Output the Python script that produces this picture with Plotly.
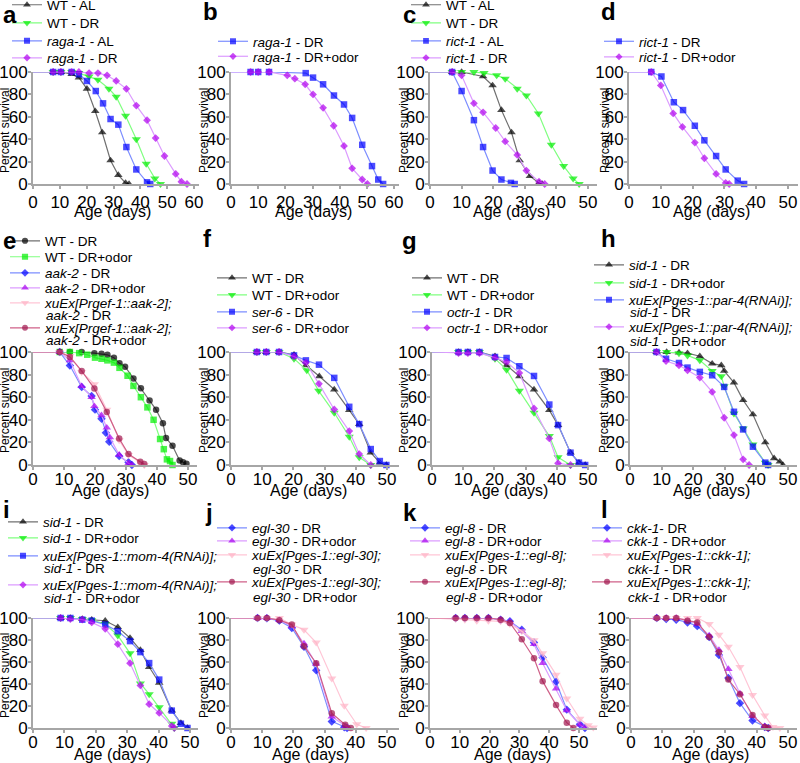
import plotly.graph_objects as go

W, H = 800, 763
FONT = "Arial, Liberation Sans, sans-serif"

# ------------------------------------------------------------------ data
# panel a
A_WT_AL_D = [0, 7.5, 10.4, 14.4, 17.1, 20.1, 23.2, 25.8, 28.9, 31.8, 34.5, 35.8]
A_WT_AL_S = [100, 100, 100, 98, 95, 85, 65, 46, 21, 8, 1, 0]
A_WT_DR_D = [0, 7.5, 10.4, 14.4, 17.1, 20.9, 24.2, 28.3, 31.0, 34.5, 38.5, 42.2, 45.4, 47.5]
A_WT_DR_S = [100, 100, 100, 100, 99, 96, 93, 85, 78, 61, 40, 18, 5, 0]
A_RAGA_AL_D = [0, 7.5, 10.4, 14.4, 17.1, 20.1, 23.4, 26.1, 28.9, 31.8, 34.8, 38.5, 42.5, 43.7]
A_RAGA_AL_S = [100, 100, 100, 100, 98, 92, 83, 72, 58, 53, 33, 13, 1.5, 0]
A_RAGA_DR_D = [0, 7.5, 10.4, 14.4, 17.1, 20.9, 24.2, 27.6, 31.0, 34.8, 38.5, 42.5, 45.7, 49.0, 53.2, 55.3, 57.4]
A_RAGA_DR_S = [100, 100, 100, 100, 100, 99, 99, 97, 92, 85, 70, 57, 41, 25, 9, 2, 0]
# panel b
B_RAGA_DR_D = [0, 7.2, 10.0, 14.0, 27.5, 30.2, 33.9, 37.9, 41.6, 44.6, 48.3, 51.9, 54.2, 56.0]
B_RAGA_DR_S = [100, 100, 100, 100, 99, 95, 89, 79, 71, 59, 35, 16, 4, 0]
B_RAGA_ODOR_D = [0, 7.2, 10.0, 14.0, 20.7, 23.5, 27.3, 30.2, 33.9, 37.8, 41.6, 44.6, 48.3, 50.2]
B_RAGA_ODOR_S = [100, 100, 100, 100, 97, 94, 89, 80, 68, 52, 34, 14, 4, 0]
# panel c
C_WT_AL_D = [0, 7.0, 10.0, 16.8, 19.8, 22.6, 25.8, 28.4, 31.6, 34.5, 35.5]
C_WT_AL_S = [100, 100, 100, 96, 88, 66, 46, 21, 7, 1, 0]
C_WT_DR_D = [0, 7.0, 10.0, 13.9, 17.1, 21.1, 23.8, 27.6, 30.5, 34.3, 38.4, 42.3, 45.3, 47.2]
C_WT_DR_S = [100, 100, 100, 100, 99, 97, 94, 85, 79, 63, 35, 16, 5, 0]
C_RICT_AL_D = [0, 7.0, 10.0, 13.9, 16.8, 19.8, 22.6, 25.6, 26.8]
C_RICT_AL_S = [100, 100, 83, 57, 33, 12, 4, 1, 0]
C_RICT_DR_D = [0, 7.0, 10.0, 13.9, 16.8, 20.8, 23.8, 27.6, 30.5, 34.5, 36.3]
C_RICT_DR_S = [100, 100, 97, 72, 64, 50, 38, 26, 12, 2, 0]
# panel d
D_RICT_DR_D = [0, 7.0, 10.2, 14.1, 17.0, 20.7, 23.7, 27.4, 30.4, 34.2, 36.2]
D_RICT_DR_S = [100, 100, 96, 73, 66, 52, 39, 25, 13, 3, 0]
D_RICT_ODOR_D = [0, 7.0, 10.0, 13.9, 16.8, 20.7, 23.7, 27.4, 30.4, 31.5]
D_RICT_ODOR_S = [100, 100, 88, 63, 51, 37, 23, 9, 1, 0]
# panel e
E_WT_DR_D = [0, 8.6, 11.9, 15.7, 19.8, 22.1, 24.0, 26.1, 27.9, 29.7, 32.4, 34.8, 37.6, 39.7, 41.9, 42.9, 45.0, 47.3, 48.4, 49.5]
E_WT_DR_S = [100, 100, 100, 100, 99, 98.5, 97.5, 95, 90, 87, 76.5, 68, 57, 49, 37, 24, 17, 4, 2.4, 1]
E_WT_ODOR_D = [0, 8.6, 11.9, 14.9, 17.5, 20.0, 22.1, 24.0, 26.1, 27.9, 30.5, 32.4, 34.8, 36.9, 38.9, 41.0, 42.2, 43.2, 44.2, 45.0]
E_WT_ODOR_S = [100, 100, 100, 99, 97.6, 95, 94, 92.6, 90.6, 86, 79, 70, 60, 51, 40, 23, 14, 5, 3.5, 0]
E_AAK_DR_D = [0, 8.6, 11.9, 15.7, 18.9, 20.0, 22.1, 23.5, 24.6, 27.8, 30.8, 31.9]
E_AAK_DR_S = [100, 100, 88, 69, 61, 49, 41, 28.5, 20.6, 8, 2.4, 0]
E_AAK_ODOR_D = [0, 8.6, 11.9, 15.7, 18.9, 19.8, 22.1, 23.8, 24.8, 27.8, 30.8, 31.9]
E_AAK_ODOR_S = [100, 100, 92.6, 69.7, 60, 52, 44, 33, 24.4, 9, 1.5, 0]
E_RESC_DR_D = [0, 8.6, 11.9, 15.7, 19.8, 23.8, 27.8, 30.8, 34.6, 35.9]
E_RESC_DR_S = [100, 100, 96.5, 82.4, 71.5, 49, 22, 8.8, 2.4, 0]
E_RESC_ODOR_D = [0, 8.6, 11.9, 15.7, 19.8, 23.8, 27.8, 30.8, 34.6, 35.9]
E_RESC_ODOR_S = [100, 100, 95.6, 83.2, 67.6, 47, 23.5, 9.7, 2.9, 0.9]
# panel f
F_WT_DR_D = [0, 8.3, 11.3, 15.4, 20.2, 24.0, 28.3, 33.1, 37.9, 41.1, 44.8, 47.7, 49.8]
F_WT_DR_S = [100, 100, 100, 100, 97.6, 88.2, 78.5, 66.8, 48.5, 36.2, 10.9, 2.1, 0]
F_WT_ODOR_D = [0, 8.3, 11.3, 15.4, 20.2, 24.3, 28.1, 33.1, 37.9, 41.1, 44.8]
F_WT_ODOR_S = [100, 100, 100, 100, 94.1, 83.8, 65.6, 46.2, 25, 6.8, 0]
F_SER_DR_D = [0, 8.3, 11.3, 15.4, 20.2, 24.0, 28.2, 33.1, 37.9, 41.1, 44.8, 47.7, 49.8]
F_SER_DR_S = [100, 100, 100, 100, 97, 92.6, 88.8, 77.1, 51.5, 36.2, 14.1, 3.5, 0]
F_SER_ODOR_D = [0, 8.3, 11.3, 15.4, 20.2, 24.0, 28.2, 33.1, 37.9, 41.1, 44.8]
F_SER_ODOR_S = [100, 100, 100, 100, 96, 90.6, 71.8, 49.1, 30, 9.7, 0]
# panel g
G_WT_DR_D = [0, 8.5, 11.5, 15.2, 20.2, 23.9, 28.0, 32.7, 37.6, 40.4, 44.4, 47.1, 49.1]
G_WT_DR_S = [100, 100, 100, 100, 96.2, 88.2, 78.5, 66.8, 48.5, 35.3, 10.9, 2.1, 0]
G_WT_ODOR_D = [0, 8.5, 11.5, 15.2, 20.2, 23.9, 28.0, 32.7, 37.6, 40.4, 44.4]
G_WT_ODOR_S = [100, 100, 100, 100, 94.1, 84.4, 65.6, 46.2, 25.6, 6.8, 0]
G_OCTR_DR_D = [0, 8.5, 11.5, 15.2, 20.2, 23.9, 28.0, 32.7, 37.6, 40.4, 44.4, 47.1, 49.1]
G_OCTR_DR_S = [100, 100, 100, 100, 95.6, 94.7, 87.4, 78.8, 53.5, 35.3, 10.9, 2.1, 0]
G_OCTR_ODOR_D = [0, 8.5, 11.5, 15.2, 20.2, 23.9, 28.0, 32.7, 37.6, 40.4, 44.4]
G_OCTR_ODOR_S = [100, 99, 99, 99, 95, 91.2, 81.5, 50, 23.5, 1.5, 0]
# panel h
H_SID_DR_D = [0, 8.4, 11.6, 15.5, 18.2, 22.1, 26.0, 28.9, 29.8, 32.9, 35.8, 38.9, 42.8, 45.6, 47.4, 48.4]
H_SID_DR_S = [100, 100, 100, 99.5, 99, 96.2, 89.7, 88.2, 83.2, 72.9, 57.4, 44.7, 20, 5.9, 2.9, 0]
H_SID_ODOR_D = [0, 8.4, 11.6, 15.5, 18.2, 22.1, 26.0, 28.9, 29.8, 32.9, 35.8, 38.9, 42.8, 43.7]
H_SID_ODOR_S = [100, 100, 100, 99, 97, 92.6, 83.2, 78.5, 69.7, 45.6, 32.4, 18.2, 2.1, 0]
H_PAR4_DR_D = [0, 8.4, 11.4, 15.5, 18.2, 22.1, 26.0, 29.8, 32.9, 35.8, 38.9, 42.8, 43.7]
H_PAR4_DR_S = [100, 100, 94, 90.3, 86.2, 82.4, 79.4, 69.1, 47.1, 31.5, 16.2, 2.1, 0]
H_PAR4_ODOR_D = [0, 8.4, 11.4, 15.5, 18.2, 22.1, 26.0, 29.8, 32.9, 35.8, 37.7]
H_PAR4_ODOR_S = [100, 100, 92, 88.2, 83.8, 77.4, 64.7, 41.8, 26.5, 5, 0]
# panel i
I_SID_DR_D = [0, 8.8, 11.9, 15.7, 18.7, 23.0, 27.0, 30.9, 34.2, 37.0, 40.2, 44.2, 47.1, 49.2]
I_SID_DR_S = [100, 100, 100, 99, 98.5, 97.5, 91.7, 81.8, 70.8, 55.4, 41.1, 15.8, 4.5, 0]
I_SID_ODOR_D = [0, 8.8, 11.9, 15.7, 18.7, 23.0, 27.0, 30.9, 34.2, 37.0, 40.2, 44.2, 45.0]
I_SID_ODOR_S = [100, 100, 100, 99, 98, 94.6, 84.2, 67.9, 40.5, 30.7, 18.8, 3.9, 0]
I_MOM4_DR_D = [0, 8.8, 11.9, 15.7, 18.7, 23.0, 27.0, 30.9, 34.2, 37.0, 40.2, 44.2, 47.1, 49.2]
I_MOM4_DR_S = [100, 100, 100, 98.5, 97.6, 94, 88, 79, 69, 59, 44, 15.8, 3.9, 0]
I_MOM4_ODOR_D = [0, 8.8, 11.9, 15.7, 18.7, 23.0, 27.0, 30.9, 34.2, 37.0, 40.2, 44.2, 45.0]
I_MOM4_ODOR_S = [100, 100, 99, 98.5, 96, 90.2, 76.2, 58.9, 38.7, 21.7, 13.7, 1.8, 0]
# panel j
J_EGL30_DR_D = [0, 8.5, 11.5, 15.5, 19.5, 23.4, 27.3, 32.3, 36.3, 37.2]
J_EGL30_DR_S = [100, 100, 99.7, 97.6, 91, 73.8, 52.4, 6, 0.6, 0]
J_EGL30_ODOR_D = [0, 8.5, 11.5, 15.5, 19.5, 23.4, 27.3, 32.3, 36.7, 37.7]
J_EGL30_ODOR_S = [100, 100, 100, 98, 92.6, 76.8, 58.3, 10.4, 1.5, 0]
J_RESC_DR_D = [0, 8.5, 11.5, 15.5, 19.5, 23.4, 27.3, 32.3, 36.3, 40.3, 43.3]
J_RESC_DR_S = [100, 100, 100, 100, 94, 89.3, 77.7, 45, 20.2, 3.3, 0]
J_RESC_ODOR_D = [0, 8.5, 11.5, 15.5, 19.5, 23.4, 27.3, 32.3, 36.6, 38.4]
J_RESC_ODOR_S = [100, 100, 100, 98, 94, 74.4, 58.9, 13.4, 3, 0]
# panel k
K_EGL8_DR_D = [0, 8.6, 11.7, 15.7, 19.6, 23.7, 26.8, 30.8, 34.9, 37.8, 42.3, 45.9, 50.3, 52.0]
K_EGL8_DR_S = [100, 100, 100, 100, 100, 98.5, 97, 89.3, 77.7, 64, 42, 16.7, 3.3, 0]
K_EGL8_ODOR_D = [0, 8.6, 11.7, 15.7, 19.6, 23.7, 26.8, 30.8, 34.9, 37.8, 42.3, 45.9, 50.3, 52.0]
K_EGL8_ODOR_S = [100, 100, 100, 100, 100, 98.5, 96.5, 88.1, 76.2, 58.9, 35.7, 16, 3, 0]
K_RESC_DR_D = [0, 8.6, 11.7, 15.7, 19.6, 23.7, 26.8, 30.8, 34.9, 37.8, 42.3, 45.9, 50.3, 53.1, 54.8]
K_RESC_DR_S = [100, 99, 98.5, 97.6, 97.6, 97, 94.6, 88, 79.8, 67.9, 48.5, 26.8, 8.3, 2.4, 0.5]
K_RESC_ODOR_D = [0, 8.6, 11.7, 15.7, 19.6, 23.7, 26.8, 30.8, 34.9, 37.8, 42.3, 45.9, 48.1]
K_RESC_ODOR_S = [100, 100, 100, 100, 100, 98.5, 95.5, 80.7, 63.4, 42.6, 20.8, 4.8, 0]
# panel l
L_CKK_DR_D = [0, 8.2, 11.2, 14.4, 18.0, 21.1, 24.9, 28.0, 31.0, 34.7, 38.7, 42.6, 43.7]
L_CKK_DR_S = [100, 100, 99, 98.5, 96, 92.6, 82.7, 66.4, 45.5, 22.6, 6.8, 0.9, 0]
L_CKK_ODOR_D = [0, 8.2, 11.2, 14.4, 18.0, 21.1, 24.9, 28.0, 31.0, 34.7, 38.7, 42.6, 44.2]
L_CKK_ODOR_S = [100, 100, 100, 100, 98, 94.6, 84.2, 70.8, 53.6, 31.3, 10.7, 1.5, 0]
L_RESC_DR_D = [0, 8.2, 11.2, 14.4, 18.0, 21.1, 24.9, 28.0, 31.0, 34.7, 38.7, 42.6, 45.2, 47.4]
L_RESC_DR_S = [100, 100, 100, 100, 100, 100, 94.6, 84.8, 73.8, 55.4, 30, 11.3, 0.9, 0]
L_RESC_ODOR_D = [0, 8.2, 11.2, 14.4, 18.0, 21.1, 24.9, 28.0, 31.0, 34.7, 38.7, 42.6, 43.7]
L_RESC_ODOR_S = [100, 100, 100, 100, 97.6, 96, 82.7, 68.8, 44, 30.7, 11.9, 0.9, 0]

# tick labels
Y_TICKS = [0, 20, 40, 60, 80, 100]
X_TICKS_60 = [0, 10, 20, 30, 40, 50, 60]
X_TICKS_50 = [0, 10, 20, 30, 40, 50]

# ------------------------------------------------------------------ styles
STYLES = {
    "k_tri": dict(symbol="triangle-up", color="#000000", line="#707070", size=7.5),
    "g_tri": dict(symbol="triangle-down", color="#00ee00", line="#80ff80", size=8),
    "b_sq": dict(symbol="square", color="#0000ff", line="#7d8eff", size=6.5),
    "p_dia": dict(symbol="diamond", color="#b000f0", line="#dc9cff", size=6),
    "k_cir": dict(symbol="circle", color="#000000", line="#707070", size=6.5),
    "g_sq": dict(symbol="square", color="#00ee00", line="#80ff80", size=6.5),
    "b_dia": dict(symbol="diamond", color="#0000ff", line="#7d8eff", size=6.5),
    "p_tri": dict(symbol="triangle-up", color="#a800f0", line="#dc9cff", size=7.5),
    "pk_tri": dict(symbol="triangle-down", color="#ffb3c6", line="#ffc6d6", size=8),
    "m_cir": dict(symbol="circle", color="#a0154d", line="#cf6088", size=6.5),
}

def gi(s):
    return "<i>" + s + "</i>"

# panel content: (legend line 1, legend line 2, days, survival, style)
PANELS = {
    "a": [("WT - AL", None, A_WT_AL_D, A_WT_AL_S, "k_tri"),
          ("WT - DR", None, A_WT_DR_D, A_WT_DR_S, "g_tri"),
          (gi("raga-1") + " - AL", None, A_RAGA_AL_D, A_RAGA_AL_S, "b_sq"),
          (gi("raga-1") + " - DR", None, A_RAGA_DR_D, A_RAGA_DR_S, "p_dia")],
    "b": [(gi("raga-1") + " - DR", None, B_RAGA_DR_D, B_RAGA_DR_S, "b_sq"),
          (gi("raga-1") + " - DR+odor", None, B_RAGA_ODOR_D, B_RAGA_ODOR_S, "p_dia")],
    "c": [("WT - AL", None, C_WT_AL_D, C_WT_AL_S, "k_tri"),
          ("WT - DR", None, C_WT_DR_D, C_WT_DR_S, "g_tri"),
          (gi("rict-1") + " - AL", None, C_RICT_AL_D, C_RICT_AL_S, "b_sq"),
          (gi("rict-1") + " - DR", None, C_RICT_DR_D, C_RICT_DR_S, "p_dia")],
    "d": [(gi("rict-1") + " - DR", None, D_RICT_DR_D, D_RICT_DR_S, "b_sq"),
          (gi("rict-1") + " - DR+odor", None, D_RICT_ODOR_D, D_RICT_ODOR_S, "p_dia")],
    "e": [("WT - DR", None, E_WT_DR_D, E_WT_DR_S, "k_cir"),
          ("WT - DR+odor", None, E_WT_ODOR_D, E_WT_ODOR_S, "g_sq"),
          (gi("aak-2") + " - DR", None, E_AAK_DR_D, E_AAK_DR_S, "b_dia"),
          (gi("aak-2") + " - DR+odor", None, E_AAK_ODOR_D, E_AAK_ODOR_S, "p_tri"),
          (gi("xuEx[Prgef-1::aak-2];"), gi("aak-2") + " - DR", E_RESC_DR_D, E_RESC_DR_S, "pk_tri"),
          (gi("xuEx[Prgef-1::aak-2];"), gi("aak-2") + " - DR+odor", E_RESC_ODOR_D, E_RESC_ODOR_S, "m_cir")],
    "f": [("WT - DR", None, F_WT_DR_D, F_WT_DR_S, "k_tri"),
          ("WT - DR+odor", None, F_WT_ODOR_D, F_WT_ODOR_S, "g_tri"),
          (gi("ser-6") + " - DR", None, F_SER_DR_D, F_SER_DR_S, "b_sq"),
          (gi("ser-6") + " - DR+odor", None, F_SER_ODOR_D, F_SER_ODOR_S, "p_dia")],
    "g": [("WT - DR", None, G_WT_DR_D, G_WT_DR_S, "k_tri"),
          ("WT - DR+odor", None, G_WT_ODOR_D, G_WT_ODOR_S, "g_tri"),
          (gi("octr-1") + " - DR", None, G_OCTR_DR_D, G_OCTR_DR_S, "b_sq"),
          (gi("octr-1") + " - DR+odor", None, G_OCTR_ODOR_D, G_OCTR_ODOR_S, "p_dia")],
    "h": [(gi("sid-1") + " - DR", None, H_SID_DR_D, H_SID_DR_S, "k_tri"),
          (gi("sid-1") + " - DR+odor", None, H_SID_ODOR_D, H_SID_ODOR_S, "g_tri"),
          (gi("xuEx[Pges-1::par-4(RNAi)];"), gi("sid-1") + " - DR", H_PAR4_DR_D, H_PAR4_DR_S, "b_sq"),
          (gi("xuEx[Pges-1::par-4(RNAi)];"), gi("sid-1") + " - DR+odor", H_PAR4_ODOR_D, H_PAR4_ODOR_S, "p_dia")],
    "i": [(gi("sid-1") + " - DR", None, I_SID_DR_D, I_SID_DR_S, "k_tri"),
          (gi("sid-1") + " - DR+odor", None, I_SID_ODOR_D, I_SID_ODOR_S, "g_tri"),
          (gi("xuEx[Pges-1::mom-4(RNAi)];"), gi("sid-1") + " - DR", I_MOM4_DR_D, I_MOM4_DR_S, "b_sq"),
          (gi("xuEx[Pges-1::mom-4(RNAi)];"), gi("sid-1") + " - DR+odor", I_MOM4_ODOR_D, I_MOM4_ODOR_S, "p_dia")],
    "j": [(gi("egl-30") + " - DR", None, J_EGL30_DR_D, J_EGL30_DR_S, "b_dia"),
          (gi("egl-30") + " - DR+odor", None, J_EGL30_ODOR_D, J_EGL30_ODOR_S, "p_tri"),
          (gi("xuEx[Pges-1::egl-30];"), gi("egl-30") + " - DR", J_RESC_DR_D, J_RESC_DR_S, "pk_tri"),
          (gi("xuEx[Pges-1::egl-30];"), gi("egl-30") + " - DR+odor", J_RESC_ODOR_D, J_RESC_ODOR_S, "m_cir")],
    "k": [(gi("egl-8") + " - DR", None, K_EGL8_DR_D, K_EGL8_DR_S, "b_dia"),
          (gi("egl-8") + " - DR+odor", None, K_EGL8_ODOR_D, K_EGL8_ODOR_S, "p_tri"),
          (gi("xuEx[Pges-1::egl-8];"), gi("egl-8") + " - DR", K_RESC_DR_D, K_RESC_DR_S, "pk_tri"),
          (gi("xuEx[Pges-1::egl-8];"), gi("egl-8") + " - DR+odor", K_RESC_ODOR_D, K_RESC_ODOR_S, "m_cir")],
    "l": [(gi("ckk-1") + "- DR", None, L_CKK_DR_D, L_CKK_DR_S, "b_dia"),
          (gi("ckk-1") + " - DR+odor", None, L_CKK_ODOR_D, L_CKK_ODOR_S, "p_tri"),
          (gi("xuEx[Pges-1::ckk-1];"), gi("ckk-1") + " - DR", L_RESC_DR_D, L_RESC_DR_S, "pk_tri"),
          (gi("xuEx[Pges-1::ckk-1];"), gi("ckk-1") + " - DR+odor", L_RESC_ODOR_D, L_RESC_ODOR_S, "m_cir")],
}

# ------------------------------------------------------------------ layout geometry (pixels)
ROWS = {1: (72, 184), 2: (352, 465), 3: (618, 728)}
XLAB_STANDOFF = {1: -1, 2: -5, 3: -5}
# x0: px of day 0, xt: px of last tick, xmax: axis range end
GEOM = {
    "a": dict(row=1, x0=33, xt=194, ticks=X_TICKS_60, xmax=62),
    "b": dict(row=1, x0=231, xt=394, ticks=X_TICKS_60, xmax=62),
    "c": dict(row=1, x0=430, xt=588, ticks=X_TICKS_50, xmax=53),
    "d": dict(row=1, x0=629, xt=788, ticks=X_TICKS_50, xmax=53),
    "e": dict(row=2, x0=33, xt=188, ticks=X_TICKS_50, xmax=53),
    "f": dict(row=2, x0=231, xt=387, ticks=X_TICKS_50, xmax=54),
    "g": dict(row=2, x0=432, xt=588, ticks=X_TICKS_50, xmax=53),
    "h": dict(row=2, x0=630, xt=788, ticks=X_TICKS_50, xmax=53),
    "i": dict(row=3, x0=33, xt=190, ticks=X_TICKS_50, xmax=52.5),
    "j": dict(row=3, x0=231, xt=387, ticks=X_TICKS_50, xmax=54),
    "k": dict(row=3, x0=430, xt=579, ticks=X_TICKS_50, xmax=56),
    "l": dict(row=3, x0=631, xt=788, ticks=X_TICKS_50, xmax=53),
}
# legend: left px, item centre px, second-line centre px (None)
LEG = {
    "a": (7, [5, 23, 41, 58], [None] * 4),
    "b": (213, [41.5, 56.5], [None] * 2),
    "c": (406, [5, 23, 41, 58], [None] * 4),
    "d": (599, [41.5, 57], [None] * 2),
    "e": (5, [241, 257, 273, 288, 303, 328], [None, None, None, None, 315.5, 341]),
    "f": (212, [278, 295, 312, 328], [None] * 4),
    "g": (407, [278, 295, 312, 328], [None] * 4),
    "h": (589, [265, 283, 300, 327], [None, None, 313, 341.5]),
    "i": (3, [522, 538, 556, 585], [None, None, 568.5, 598.5]),
    "j": (212, [528, 541, 555, 582], [None, None, 569, 597]),
    "k": (405, [528, 541, 555, 582], [None, None, 569, 597]),
    "l": (587, [528, 541, 555, 582], [None, None, 569, 597]),
}
LETTERS = {"a": (1, 14), "b": (201, 12), "c": (401, 14), "d": (599, 12),
           "e": (1, 241), "f": (201, 239), "g": (400, 241), "h": (599, 239),
           "i": (1, 510), "j": (203, 512), "k": (401, 512), "l": (599, 510)}
XTITLE = {"a": 113, "b": 313, "c": 511, "d": 711, "e": 110, "f": 308, "g": 509,
          "h": 711, "i": 112, "j": 310, "k": 512, "l": 710}
XTITLE_Y = {1: 212, 2: 490, 3: 754}
YTITLE_Y = {1: 131, 2: 411, 3: 676}
YTITLE_X = {"a": 5, "b": 204, "c": 404, "d": 605, "e": 5, "f": 204, "g": 404,
            "h": 604, "i": 5, "j": 204, "k": 404, "l": 604}

AXIS_COLOR = "#a6a6a6"


def px_x(p):
    return p / W


def px_y(p):
    return 1 - p / H


fig = go.Figure()
layout = dict(
    width=W, height=H,
    margin=dict(l=0, r=0, t=0, b=0, pad=0, autoexpand=False),
    paper_bgcolor="white", plot_bgcolor="white",
    font=dict(family=FONT, color="black"),
    showlegend=True,
    annotations=[],
)

legend_count = 0
for idx, key in enumerate(PANELS, start=1):
    g = GEOM[key]
    sfx = "" if idx == 1 else str(idx)
    pxday = (g["xt"] - g["x0"]) / g["ticks"][-1]
    x1 = g["x0"] + g["xmax"] * pxday
    top, bot = ROWS[g["row"]]
    layout["xaxis" + sfx] = dict(
        domain=[px_x(g["x0"]), px_x(x1)], range=[0, g["xmax"]], anchor="y" + sfx,
        tickvals=g["ticks"], ticktext=[str(t) for t in g["ticks"]],
        showline=True, linecolor=AXIS_COLOR, linewidth=2, ticks="outside",
        ticklen=3, tickwidth=1.5, tickcolor=AXIS_COLOR, showgrid=False, zeroline=False,
        ticklabelstandoff=XLAB_STANDOFF[g["row"]],
        tickfont=dict(family=FONT, size=17, color="black"), fixedrange=True)
    layout["yaxis" + sfx] = dict(
        domain=[px_y(bot), px_y(top)], range=[0, 100], anchor="x" + sfx,
        tickvals=Y_TICKS, ticktext=[str(t) for t in Y_TICKS],
        showline=True, linecolor=AXIS_COLOR, linewidth=2, ticks="outside",
        ticklen=3, tickwidth=1.5, tickcolor=AXIS_COLOR, showgrid=False, zeroline=False,
        ticklabelstandoff=-3,
        tickfont=dict(family=FONT, size=17, color="black"), fixedrange=True)

    lx, ly, ly2 = LEG[key]
    for sidx, (name, name2, days, surv, style) in enumerate(PANELS[key]):
        st = STYLES[style]
        legend_count += 1
        lid = "legend" if legend_count == 1 else "legend%d" % legend_count
        fig.add_trace(go.Scatter(
            x=days, y=surv, mode="lines+markers", name=name,
            xaxis="x" + sfx, yaxis="y" + sfx, legend=lid,
            line=dict(color=st["line"], width=1.2),
            marker=dict(symbol=st["symbol"], color=st["color"],
                        size=[0 if d == 0 else st["size"] for d in days],
                        line=dict(width=0)),
            cliponaxis=False, hoverinfo="skip"))
        layout[lid] = dict(
            x=px_x(lx), y=px_y(ly[sidx]), xanchor="left", yanchor="middle",
            bgcolor="rgba(0,0,0,0)", borderwidth=0, itemwidth=30,
            font=dict(family=FONT, size=13.5, color="black"))
        if name2:
            layout["annotations"].append(dict(
                x=px_x(lx + 40), y=px_y(ly2[sidx]), xref="paper", yref="paper",
                xanchor="left", yanchor="middle", text=name2, showarrow=False,
                font=dict(family=FONT, size=13.5, color="black"), borderpad=0))

    # titles
    layout["annotations"].append(dict(
        x=px_x(XTITLE[key]), y=px_y(XTITLE_Y[g["row"]]), xref="paper", yref="paper",
        xanchor="center", yanchor="middle", text="Age (days)", showarrow=False,
        font=dict(family=FONT, size=16, color="black")))
    layout["annotations"].append(dict(
        x=px_x(YTITLE_X[key]), y=px_y(YTITLE_Y[g["row"]]), xref="paper", yref="paper",
        xanchor="center", yanchor="middle", text="Percent survival", showarrow=False,
        textangle=-90, font=dict(family=FONT, size=12, color="black")))
    lxp, lyp = LETTERS[key]
    layout["annotations"].append(dict(
        x=px_x(lxp), y=px_y(lyp), xref="paper", yref="paper",
        xanchor="left", yanchor="middle", text="<b>%s</b>" % key, showarrow=False,
        font=dict(family=FONT, size=24, color="black")))

fig.update_layout(**layout)
fig.write_html("out.html", config={"displayModeBar": False},
               post_script="document.body.style.margin='0px';document.body.style.padding='0px';")
